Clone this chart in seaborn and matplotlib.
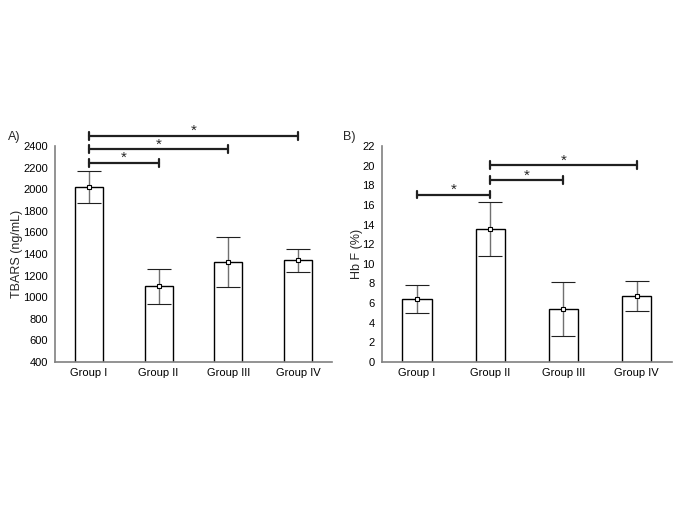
import seaborn as sns
import numpy as np
import pandas as pd
import matplotlib.pyplot as plt

sns.set_style('white')
plt.rcParams['font.family'] = ['Liberation Sans', 'DejaVu Sans']

groups = ['Group I', 'Group II', 'Group III', 'Group IV']

# panel A - TBARS
tbars_mean = [2020, 1100, 1330, 1340]
tbars_low = [1870, 940, 1090, 1230]
tbars_high = [2165, 1265, 1560, 1450]
tbars_sig = [(0, 1, 2245), (0, 2, 2370), (0, 3, 2495)]

# panel B - Hb F
hbf_mean = [6.45, 13.55, 5.45, 6.75]
hbf_low = [5.0, 10.8, 2.7, 5.2]
hbf_high = [7.8, 16.3, 8.2, 8.3]
hbf_sig = [(0, 1, 17.05), (1, 2, 18.5), (1, 3, 20.05)]

fig = plt.figure(figsize=(6.85, 5.13), dpi=100)
axA = fig.add_axes([0.0803, 0.2943, 0.4044, 0.4211])
axB = fig.add_axes([0.5572, 0.2943, 0.4238, 0.4211])


def panel(ax, mean, low, high, sig, ylim, yticks, ylabel, letter, off, lab_x):
    df = pd.DataFrame({'group': groups, 'value': mean})
    sns.barplot(data=df, x='group', y='value', ax=ax, color='white',
                edgecolor='black', linewidth=1, width=0.4, errorbar=None)
    x = np.arange(len(groups))
    mean = np.array(mean)
    yerr = [mean - np.array(low), np.array(high) - mean]
    eb = ax.errorbar(x, mean, yerr=yerr, fmt='s', ms=3.5, mfc='white',
                     mec='black', mew=0.8, ecolor='#707070', elinewidth=1,
                     capsize=8.5, capthick=1.2, zorder=5)
    for c in eb[1]:
        c.set_markeredgecolor('#202020')
    ax.set_ylim(*ylim)
    ax.set_xlim(-0.48, 3.48)
    ax.set_yticks(yticks)
    ax.set_xlabel('')
    ax.set_ylabel(ylabel, fontsize=9)
    ax.yaxis.set_label_coords(lab_x, 0.5)
    ax.tick_params(axis='both', labelsize=8, colors='black', length=3,
                   width=0.8, color='#808080')
    ax.tick_params(axis='x', direction='in', length=3, pad=4)
    ax.tick_params(axis='y', direction='out', pad=2)
    for s in ['top', 'right']:
        ax.spines[s].set_visible(False)
    for s in ['left', 'bottom']:
        ax.spines[s].set_color('#808080')
        ax.spines[s].set_linewidth(1.2)
    span = ylim[1] - ylim[0]
    for a, b, y in sig:
        ax.plot([a, b], [y, y], color='#202020', lw=1.6, clip_on=False)
        for xx in (a, b):
            ax.plot([xx, xx], [y - span * 0.018, y + span * 0.018],
                    color='#202020', lw=1.6, clip_on=False)
        ax.text((a + b) / 2, y + span * 0.022, '*', ha='center', va='center',
                fontsize=11, clip_on=False)
    ax.text(off, 1.04, letter, transform=ax.transAxes, fontsize=9,
            ha='left', va='center')


panel(axA, tbars_mean, tbars_low, tbars_high, tbars_sig, (400, 2400),
      np.arange(400, 2401, 200), 'TBARS (ng/mL)', 'A)', -0.17, -0.115)
panel(axB, hbf_mean, hbf_low, hbf_high, hbf_sig, (0, 22),
      np.arange(0, 23, 2), 'Hb F (%)', 'B)', -0.133, -0.064)

fig.savefig('out.png', dpi=100)
